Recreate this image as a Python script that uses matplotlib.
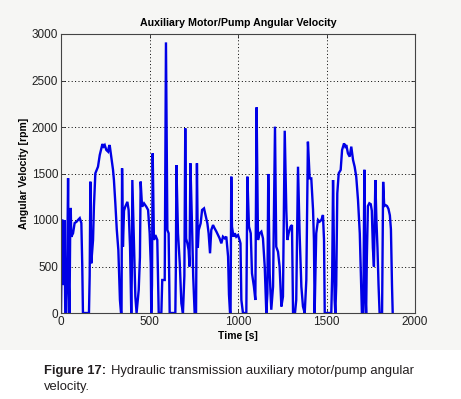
import matplotlib
matplotlib.use("Agg")
import matplotlib.pyplot as plt
from matplotlib.patches import Rectangle

# time [s] and angular velocity [rpm]
time_s = [
    0, 6, 12, 16, 20, 24, 30, 36, 40, 44, 48, 52, 55, 58, 68, 77, 87, 96, 106, 115,
    120, 124, 158, 162, 166, 171, 181, 186, 194, 209, 219, 234, 240, 247, 256, 266,
    270, 275, 284, 294, 299, 307, 315, 324, 333, 339, 342, 345, 350, 356, 363, 375,
    382, 390, 397, 400, 403, 412, 420, 427, 439, 446, 450, 458, 469, 482, 492, 501,
    507, 510, 514, 518, 525, 533, 544, 552, 567, 572, 586, 593, 601, 608, 614, 646,
    649, 652, 661, 671, 680, 689, 697, 702, 707, 714, 721, 726, 731, 740, 747, 755,
    763, 768, 773, 778, 789, 797, 808, 817, 827, 834, 842, 849, 859, 868, 878, 887,
    896, 906, 915, 925, 934, 944, 949, 955, 958, 962, 966, 974, 982, 990, 1000, 1009,
    1014, 1019, 1028, 1047, 1053, 1062, 1072, 1079, 1090, 1098, 1105, 1113, 1122,
    1132, 1141, 1151, 1160, 1166, 1171, 1179, 1188, 1198, 1209, 1216, 1226, 1235,
    1245, 1254, 1264, 1273, 1279, 1286, 1297, 1305, 1311, 1322, 1329, 1339, 1348,
    1358, 1367, 1377, 1386, 1395, 1405, 1414, 1424, 1429, 1433, 1442, 1452, 1461,
    1471, 1480, 1486, 1490, 1527, 1532, 1537, 1546, 1550, 1555, 1561, 1569, 1580,
    1588, 1599, 1606, 1612, 1621, 1631, 1640, 1650, 1659, 1668, 1678, 1688, 1696,
    1700, 1708, 1714, 1720, 1724, 1728, 1734, 1742, 1750, 1756, 1762, 1768, 1776,
    1782, 1788, 1794, 1800, 1814, 1820, 1826, 1834, 1842, 1850, 1858, 1864, 1870,
    1874,
]
speed_rpm = [
    0, 990, 1000, 300, 1000, 0, 0, 700, 1450, 300, 0, 900, 1130, 820, 857, 967, 980,
    1000, 1020, 967, 520, 0, 0, 400, 1412, 534, 785, 1143, 1502, 1573, 1699, 1817,
    1790, 1806, 1753, 1735, 1780, 1806, 1681, 1538, 1430, 1179, 900, 677, 140, 0, 0,
    1556, 713, 1100, 1143, 1195, 1108, 713, 0, 400, 1430, 785, 176, 0, 247, 600, 1413,
    1143, 1179, 1143, 1108, 857, 534, 0, 300, 1717, 785, 838, 785, 0, 0, 355, 355,
    2910, 892, 857, 0, 0, 500, 1590, 857, 534, 104, 0, 400, 1986, 800, 749, 677, 500,
    1610, 964, 391, 0, 0, 1610, 700, 892, 964, 1108, 1125, 1050, 964, 857, 642, 892,
    946, 910, 875, 839, 803, 749, 821, 803, 821, 606, 200, 0, 0, 1466, 928, 821, 857,
    820, 838, 785, 749, 140, 0, 0, 1466, 928, 857, 427, 283, 140, 2211, 785, 857, 875,
    803, 498, 0, 212, 1495, 427, 35, 283, 2004, 713, 659, 498, 70, 176, 1960, 1100,
    785, 857, 928, 946, 0, 0, 140, 1573, 857, 283, 70, 0, 355, 1842, 1448, 1448, 1108,
    785, 0, 857, 1000, 982, 1000, 1054, 785, 0, 0, 400, 1430, 140, 0, 300, 1287, 1502,
    1538, 1753, 1824, 1790, 1806, 1717, 1681, 1789, 1645, 1573, 1466, 1215, 857, 300,
    0, 0, 1540, 200, 0, 600, 1150, 1180, 1170, 1100, 700, 500, 1430, 1000, 700, 300, 0,
    0, 1410, 1150, 1160, 1150, 1120, 1050, 900, 300, 0,
]
x_ticks = [0, 500, 1000, 1500, 2000]
y_ticks = [0, 500, 1000, 1500, 2000, 2500, 3000]

W, H = 461, 399
bg = "#f6f6f4"
plt.rcParams["font.family"] = ["Liberation Sans", "DejaVu Sans"]

fig = plt.figure(figsize=(W / 100, H / 100), dpi=100)
fig.patch.set_facecolor("white")
# grey panel behind the plot, caption sits on white below it
fig.add_artist(Rectangle((0, 1 - 350 / H), 1, 350 / H, transform=fig.transFigure,
                         facecolor=bg, edgecolor="none", zorder=-10))

ax = fig.add_axes([61 / W, 1 - 313 / H, (415 - 61) / W, (313 - 34) / H])
ax.set_facecolor(bg)
ax.plot(time_s, speed_rpm, color="#0000e6", linewidth=1.7, solid_joinstyle="miter")

ax.set_xlim(0, 2000)
ax.set_ylim(0, 3000)
ax.set_xticks(x_ticks)
ax.set_yticks(y_ticks)
ax.tick_params(direction="in", length=3, width=0.6, top=True, right=True,
               labelsize=8.5, pad=2, colors="#222222")
ax.grid(True, color="black", linestyle=(0, (1, 2.5)), linewidth=0.7)
for s in ax.spines.values():
    s.set_color("#444444")
    s.set_linewidth(0.8)

ax.set_title("Auxiliary Motor/Pump Angular Velocity", fontsize=7.7,
             fontweight="bold", pad=6)
ax.set_xlabel("Time [s]", fontsize=7.5, fontweight="bold", labelpad=2)
ax.set_ylabel("Angular Velocity [rpm]", fontsize=7.5, fontweight="bold", labelpad=2)

# caption: bold label then regular text
cap_y1 = 1 - 371 / H
cap_y2 = 1 - 387 / H
t1 = fig.text(44 / W, cap_y1, "Figure 17:", fontsize=9.4, fontweight="bold",
              va="center", color="#231f20")
fig.canvas.draw()
bb = t1.get_window_extent(fig.canvas.get_renderer())
fig.text(bb.x1 / W + 5 / W, cap_y1,
         "Hydraulic transmission auxiliary motor/pump angular",
         fontsize=9.4, va="center", color="#231f20")
fig.text(44 / W, cap_y2, "velocity.", fontsize=9.4, va="center", color="#231f20")

fig.savefig("out.png", dpi=100, facecolor=fig.get_facecolor())
